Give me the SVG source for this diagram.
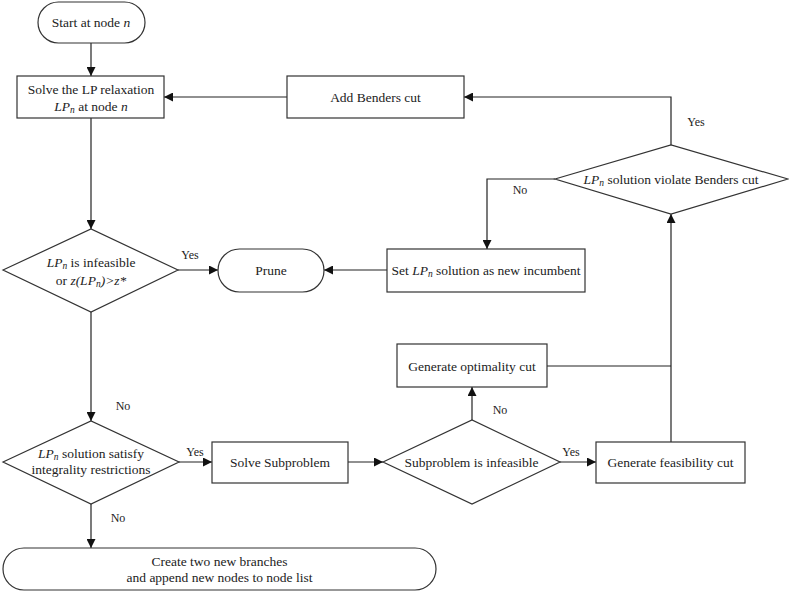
<svg xmlns="http://www.w3.org/2000/svg" width="789" height="592" viewBox="0 0 789 592" font-family="'Liberation Serif', 'DejaVu Serif', serif">
<defs>
<marker id="ah" viewBox="0 0 10 10" refX="10" refY="5" markerWidth="9" markerHeight="9" markerUnits="userSpaceOnUse" orient="auto">
<path d="M0,0 L10,5 L0,10 z" fill="#111"/>
</marker>
</defs>
<style>
.s{fill:#fff;stroke:#333;stroke-width:1.2}
.c{fill:none;stroke:#222;stroke-width:1.2}
.a{marker-end:url(#ah)}
text{font-family:'Liberation Serif','DejaVu Serif',serif;font-size:13.5px;fill:#222;text-anchor:middle}
.l{font-size:12px}
.i{font-style:italic}
.sub{font-size:9.5px;font-style:italic}
</style>
<g id="connectors">
<path class="c a" d="M91,43 V76"/>
<path class="c a" d="M91,118 V229"/>
<path class="c a" d="M287,97 H164"/>
<path class="c a" d="M671,145 V97 H464"/>
<path class="c a" d="M555,179 H487 V249"/>
<path class="c a" d="M387,270 H324"/>
<path class="c a" d="M178,270 H218"/>
<path class="c a" d="M91,312 V421"/>
<path class="c a" d="M179,462 H212"/>
<path class="c a" d="M91,504 V548"/>
<path class="c a" d="M348,462 H383"/>
<path class="c a" d="M472,420 V387"/>
<path class="c a" d="M560,462 H596"/>
<path class="c" d="M547,366 H671"/>
<path class="c a" d="M671,442 V214"/>
<text class="l" x="190" y="259">Yes</text>
<text class="l" x="696" y="126">Yes</text>
<text class="l" x="520" y="194">No</text>
<text class="l" x="123" y="410">No</text>
<text class="l" x="195" y="456">Yes</text>
<text class="l" x="118" y="522">No</text>
<text class="l" x="500" y="414">No</text>
<text class="l" x="571" y="456">Yes</text>
</g>
<g id="start">
<rect class="s" x="38" y="2" width="107" height="41" rx="20.5"/>
<text x="91" y="27">Start at node <tspan class="i">n</tspan></text>
</g>
<g id="solve-lp">
<rect class="s" x="17" y="76" width="147" height="42"/>
<text x="91" y="94">Solve the LP relaxation</text>
<text x="91" y="111"><tspan class="i">LP</tspan><tspan class="sub" dy="2">n</tspan><tspan dy="-2"> at node </tspan><tspan class="i">n</tspan></text>
</g>
<g id="add-benders">
<rect class="s" x="287" y="76" width="177" height="42"/>
<text x="375.5" y="102">Add Benders cut</text>
</g>
<g id="violate">
<polygon class="s" points="555,179 671,145 788,179 671,214"/>
<text x="671" y="184"><tspan class="i">LP</tspan><tspan class="sub" dy="2">n</tspan><tspan dy="-2"> solution violate Benders cut</tspan></text>
</g>
<g id="infeasible">
<polygon class="s" points="3,270 91,229 178,270 91,312"/>
<text x="91" y="267"><tspan class="i">LP</tspan><tspan class="sub" dy="2">n</tspan><tspan dy="-2"> is infeasible</tspan></text>
<text x="91" y="285">or <tspan class="i">z(LP</tspan><tspan class="sub" dy="2">n</tspan><tspan class="i" dy="-2">)&gt;z*</tspan></text>
</g>
<g id="prune">
<rect class="s" x="218" y="249" width="106" height="43" rx="21.5"/>
<text x="271" y="275">Prune</text>
</g>
<g id="incumbent">
<rect class="s" x="387" y="249" width="198" height="43"/>
<text x="486" y="275">Set <tspan class="i">LP</tspan><tspan class="sub" dy="2">n</tspan><tspan dy="-2"> solution as new incumbent</tspan></text>
</g>
<g id="integrality">
<polygon class="s" points="3,462 91,421 179,462 91,504"/>
<text x="91" y="458"><tspan class="i">LP</tspan><tspan class="sub" dy="2">n</tspan><tspan dy="-2"> solution satisfy</tspan></text>
<text x="91" y="474">integrality restrictions</text>
</g>
<g id="solve-sub">
<rect class="s" x="212" y="442" width="136" height="41"/>
<text x="280" y="467">Solve Subproblem</text>
</g>
<g id="sub-infeasible">
<polygon class="s" points="383,462 472,420 560,462 472,504"/>
<text x="471.5" y="467">Subproblem is infeasible</text>
</g>
<g id="optimality">
<rect class="s" x="397" y="344" width="150" height="43"/>
<text x="472" y="371">Generate optimality cut</text>
</g>
<g id="feasibility">
<rect class="s" x="596" y="442" width="149" height="41"/>
<text x="670.5" y="467">Generate feasibility cut</text>
</g>
<g id="branch">
<rect class="s" x="3" y="548" width="433" height="42" rx="21"/>
<text x="219.5" y="566">Create two new branches</text>
<text x="219.5" y="582">and append new nodes to node list</text>
</g>
</svg>
